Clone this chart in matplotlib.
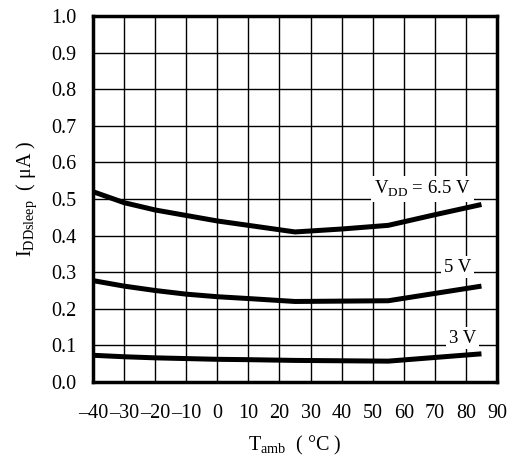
import numpy as np
import matplotlib.pyplot as plt

plt.rcParams['font.family'] = ['Liberation Serif', 'DejaVu Serif']

# temperature points (deg C)
temp = [-40, -30, -20, -10, 0, 10, 25, 40, 55, 70, 85]
# I_DDsleep (uA) for each supply voltage
i_65 = [0.52, 0.49, 0.47, 0.455, 0.44, 0.428, 0.41, 0.418, 0.428, 0.457, 0.485]
i_5 = [0.277, 0.262, 0.25, 0.24, 0.233, 0.228, 0.22, 0.221, 0.222, 0.242, 0.262]
i_3 = [0.073, 0.069, 0.066, 0.064, 0.062, 0.061, 0.059, 0.058, 0.057, 0.067, 0.077]

xticks = list(range(-40, 91, 10))
xtick_labels = [str(t).replace('-', '\u2013') for t in xticks]
yticks = np.round(np.arange(0, 1.01, 0.1), 1)

fig = plt.figure(figsize=(5.11, 4.59), dpi=100)
ax = fig.add_axes([93 / 511, 1 - 382 / 459, 404 / 511, 366 / 459])

for vals in (i_65, i_5, i_3):
    ax.plot(temp, vals, color='black', lw=3.6, solid_capstyle='butt', zorder=3)

ax.set_xlim(-40, 90)
ax.set_ylim(0, 1.0)
ax.set_xticks(xticks)
ax.set_xticklabels(xtick_labels)
ax.set_yticks(yticks)
ax.set_yticklabels(['%.1f' % v for v in yticks])
ax.grid(True, color='black', lw=1.0)
ax.set_axisbelow(True)
ax.tick_params(length=0, labelsize=14.5)
ax.tick_params(axis='x', pad=16)
ax.tick_params(axis='y', pad=12)
for s in ax.spines.values():
    s.set_linewidth(2.5)

box = dict(facecolor='white', edgecolor='none', pad=2)
ax.text(81.6, 0.527, r'V$_{\mathregular{DD}}$ = 6.5 V', ha='right', va='center',
        fontsize=13.5, bbox=box, zorder=4)
ax.text(81.6, 0.314, '5 V', ha='right', va='center', fontsize=13.5, bbox=box, zorder=4)
ax.text(83.2, 0.12, '3 V', ha='right', va='center', fontsize=13.5, bbox=box, zorder=4)

ax.set_ylabel(r'I$_{\mathregular{DDsleep}}$  ( $\mathregular{\mu}$A )', fontsize=14.5, labelpad=9)
ax.set_xlabel(r'T$_{\mathregular{amb}}$  ( °C )', fontsize=14.5, labelpad=8)

fig.savefig('out.png', dpi=100)
